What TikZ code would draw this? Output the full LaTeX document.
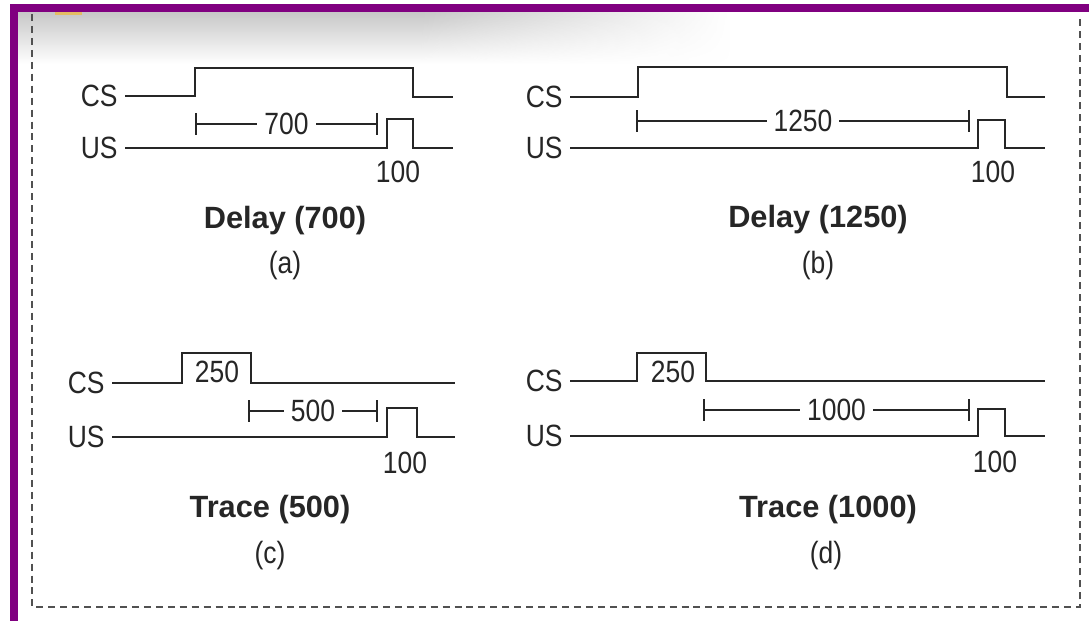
\documentclass[tikz,border=0pt]{standalone}
\usepackage{fontspec}
\setmainfont{Liberation Sans}
\newfontfamily\narrowfont{Liberation Sans}[FakeStretch=0.86]
\usetikzlibrary{arrows.meta,fadings}
\definecolor{framepurple}{RGB}{128,0,128}
\definecolor{ink}{RGB}{38,38,38}
\tikzfading[name=fadedown, top color=transparent!0, bottom color=transparent!100]
\tikzfading[name=fadeinright, left color=transparent!100, right color=transparent!0]

\begin{document}
\begin{tikzpicture}[x=0.02cm, y=-0.02cm,
    lbl/.style={font=\narrowfont\fontsize{17.5}{20}\selectfont, text=ink, inner sep=4pt},
    sig/.style={lbl, anchor=east},
    title/.style={font=\fontsize{17.5}{21}\selectfont\bfseries, text=ink},
    wave/.style={draw=ink, line width=1.2pt, line join=miter},
    span/.style={draw=ink, line width=1.1pt, {Bar[width=4.4mm]}-{Bar[width=4.4mm]}},
    gap/.style={lbl, fill=white, inner xsep=4pt, inner ysep=1pt},
    frame/.style={draw=ink!80, line width=1.4pt, dash pattern=on 4pt off 2.8pt}
  ]
    \path[use as bounding box] (0,0) rectangle (1089,621);

    % shadow under the top bar
    \fill[black!22, path fading=fadedown] (18,12) rectangle (730,64);
    \fill[white, path fading=fadeinright] (420,12) rectangle (731,64);
    \fill[orange!60!yellow, opacity=.5] (55,12) rectangle (82,15);

    % outer frame
    \fill[framepurple] (10,4) rectangle (1089,12);
    \fill[framepurple] (10,4) rectangle (18,621);
    \draw[frame] (32,14) -- (32,607) -- (1080,607) -- (1080,14);

    % (a) delay 700
    \node[sig] (csa) at (125,96) {CS};
    \node[sig] (usa) at (125,148) {US};
    \draw[wave] (csa.east) -- (195,96) -- (195,68) -- (413,68) -- (413,97) -- (453,97);
    \draw[wave] (usa.east) -- (387,148) -- (387,119) -- (413,119) -- (413,148) -- (453,148);
    \draw[span] (195,124) -- node[gap] (ia) {700} (378,124);
    \node[lbl] (pa) at (398,172) {100};
    \node[title] (ta) at (285,221) {Delay (700)};
    \node[lbl] (ca) at (285,266) {(a)};

    % (b) delay 1250
    \node[sig] (csb) at (570,97) {CS};
    \node[sig] (usb) at (570,148) {US};
    \draw[wave] (csb.east) -- (638,97) -- (638,67) -- (1007,67) -- (1007,97) -- (1045,97);
    \draw[wave] (usb.east) -- (978,148) -- (978,120) -- (1005,120) -- (1005,148) -- (1045,148);
    \draw[span] (636,121) -- node[gap] (ib) {1250} (970,121);
    \node[lbl] (pb) at (993,172) {100};
    \node[title] (tb) at (818,220) {Delay (1250)};
    \node[lbl] (cb) at (818,266) {(b)};

    % (c) trace 500
    \node[sig] (csc) at (112,383) {CS};
    \node[sig] (usc) at (112,437) {US};
    \draw[wave] (csc.east) -- (182,383) -- (182,353) -- (251,353) -- (251,383) -- (455,383);
    \node[lbl] (sc) at (217,372) {250};
    \draw[wave] (usc.east) -- (387,437) -- (387,408) -- (417,408) -- (417,437) -- (455,437);
    \draw[span] (248,411) -- node[gap] (ic) {500} (378,411);
    \node[lbl] (pc) at (405,463) {100};
    \node[title] (tc) at (270,510) {Trace (500)};
    \node[lbl] (cc) at (270,556) {(c)};

    % (d) trace 1000
    \node[sig] (csd) at (570,381) {CS};
    \node[sig] (usd) at (570,436) {US};
    \draw[wave] (csd.east) -- (637,381) -- (637,353) -- (706,353) -- (706,381) -- (1045,381);
    \node[lbl] (sd) at (673,372) {250};
    \draw[wave] (usd.east) -- (978,436) -- (978,409) -- (1005,409) -- (1005,436) -- (1045,436);
    \draw[span] (703,410) -- node[gap] (id) {1000} (970,410);
    \node[lbl] (pd) at (995,462) {100};
    \node[title] (td) at (828,510) {Trace (1000)};
    \node[lbl] (cd) at (826,556) {(d)};
\end{tikzpicture}
\end{document}
